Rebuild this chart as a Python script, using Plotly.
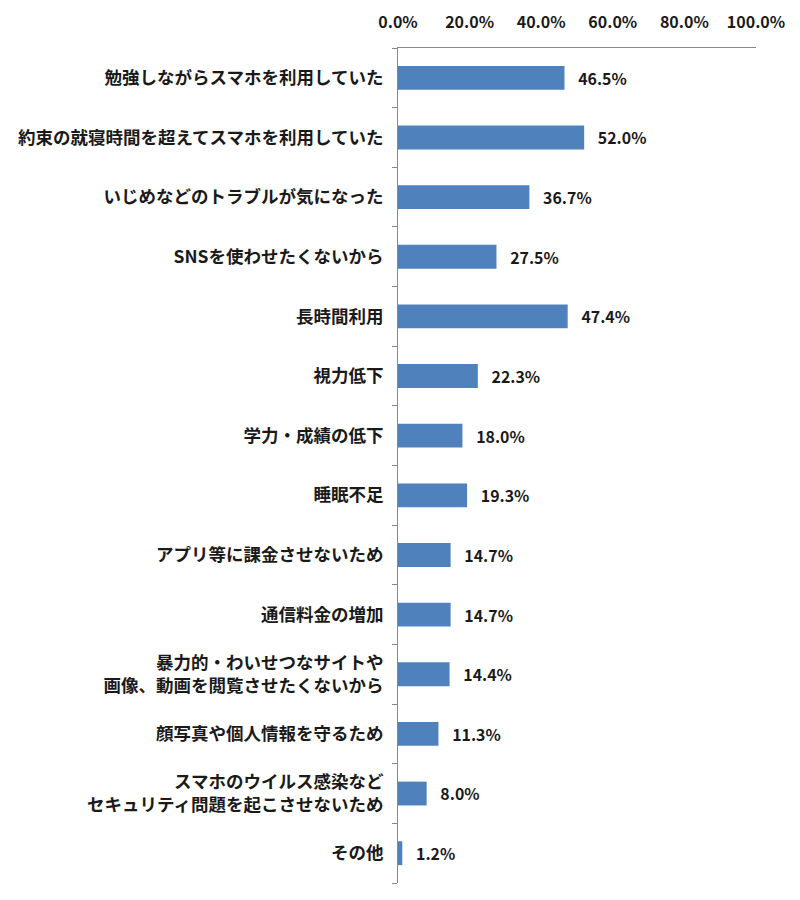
import plotly.graph_objects as go

categories = [
    "勉強しながらスマホを利用していた",
    "約束の就寝時間を超えてスマホを利用していた",
    "いじめなどのトラブルが気になった",
    "SNSを使わせたくないから",
    "長時間利用",
    "視力低下",
    "学力・成績の低下",
    "睡眠不足",
    "アプリ等に課金させないため",
    "通信料金の増加",
    "暴力的・わいせつなサイトや<br>画像、動画を閲覧させたくないから",
    "顔写真や個人情報を守るため",
    "スマホのウイルス感染など<br>セキュリティ問題を起こさせないため",
    "その他",
]
values = [46.5, 52.0, 36.7, 27.5, 47.4, 22.3, 18.0, 19.3, 14.7, 14.7, 14.4, 11.3, 8.0, 1.2]
x_ticks = [0, 20, 40, 60, 80, 100]
x_tick_labels = ["0.0%", "20.0%", "40.0%", "60.0%", "80.0%", "100.0%"]

font_family = "Noto Sans CJK JP, Noto Sans, sans-serif"

fig = go.Figure(
    go.Bar(
        x=values,
        y=categories,
        orientation="h",
        marker=dict(color="#4F81BD", line=dict(width=0)),
        text=[f"<b>{v:.1f}%</b>" for v in values],
        texttemplate="   %{text}",
        textposition="outside",
        textfont=dict(size=16, color="#1a1a1a", family=font_family),
        cliponaxis=False,
        width=0.4,
    )
)

fig.update_layout(
    width=800,
    height=900,
    margin=dict(l=390, r=52, t=40, b=25, autoexpand=False),
    paper_bgcolor="white",
    plot_bgcolor="white",
    showlegend=False,
    font=dict(family=font_family, size=15, color="#1a1a1a"),
    xaxis=dict(
        side="top",
        range=[0, 100],
        tickvals=x_ticks,
        ticktext=[f"<b>{t}</b>" for t in x_tick_labels],
        showgrid=False,
        zeroline=False,
        showline=True,
        linecolor="#888888",
        linewidth=1,
        ticks="outside",
        ticklen=13,
        tickcolor="rgba(0,0,0,0)",
        tickfont=dict(size=16, color="#1a1a1a", family=font_family),
        fixedrange=True,
    ),
    yaxis=dict(
        autorange="reversed",
        type="category",
        tickson="boundaries",
        ticks="outside",
        ticklen=5,
        tickcolor="#888888",
        showline=True,
        linecolor="#888888",
        linewidth=1,
        showgrid=False,
        ticklabelstandoff=10,
        tickfont=dict(size=17.5, color="#1a1a1a", family=font_family),
        tickvals=categories,
        ticktext=[f"<b>{c}</b>" for c in categories],
    ),
)

fig.write_html("out.html")
